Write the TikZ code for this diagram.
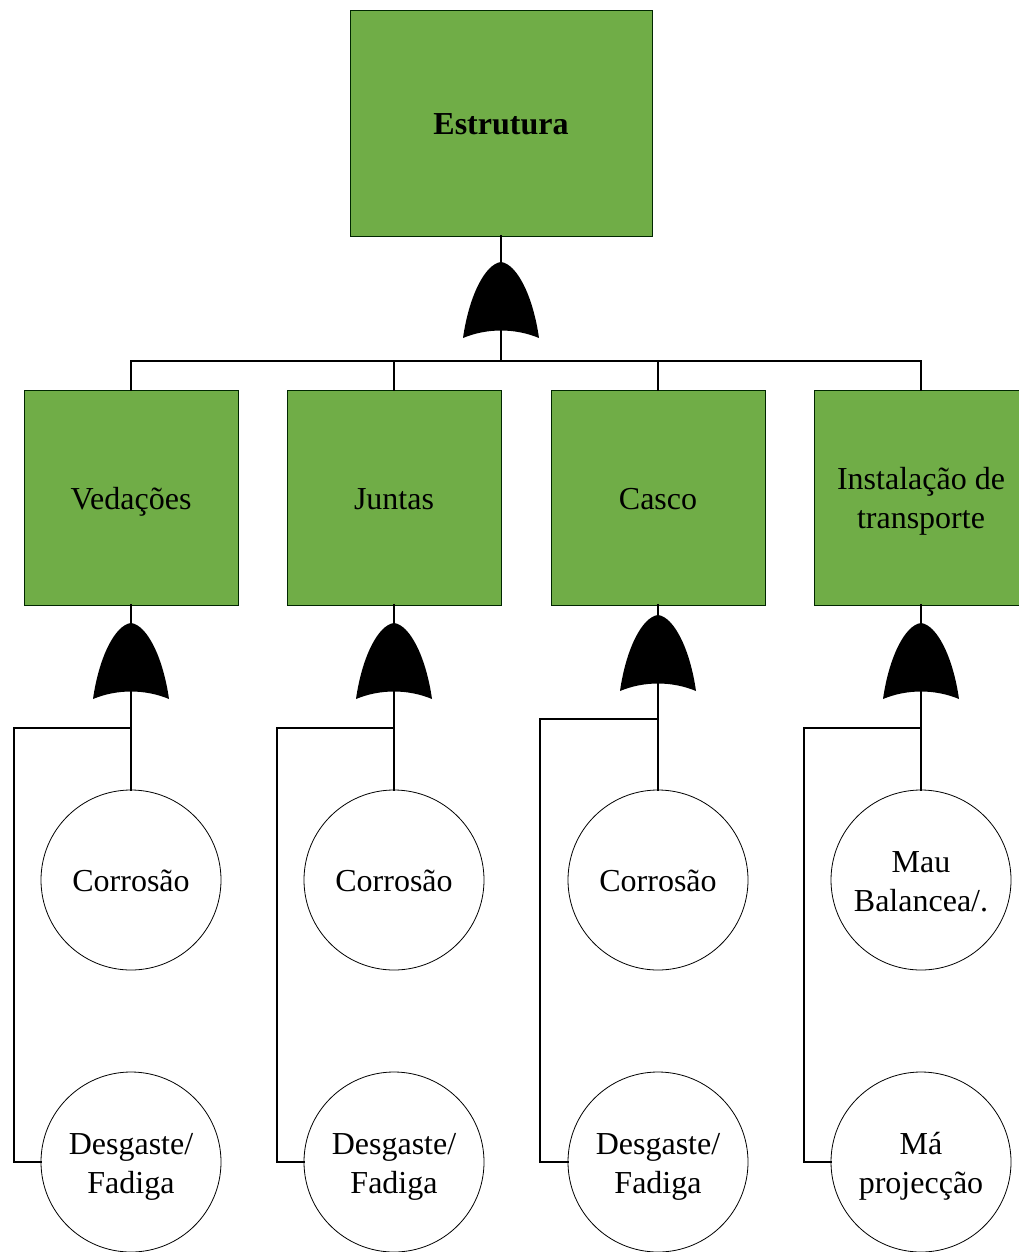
\documentclass[tikz,border=0pt]{standalone}
\usepackage{fontspec}
\setmainfont{Liberation Serif}
\begin{document}
\begin{tikzpicture}[x=1pt,y=-1pt,
  txt/.style={align=center, font=\fontsize{32}{39}\selectfont, text height=23pt, text depth=0pt},
  twoline/.style={text height=62pt},
  event/.style={txt, draw=black!75!green!60!black, line width=0.8pt, fill=evgreen, inner sep=0pt,
    minimum width=214pt, minimum height=215pt},
  basic/.style={txt, circle, draw=black, line width=0.8pt, fill=white, minimum size=180pt,
    inner sep=0pt},
  wire/.style={line width=2.6pt, line cap=rect},
  ]
\definecolor{evgreen}{HTML}{70AD47}
\useasboundingbox (0,0) rectangle (1018,1252);
\fill[white] (0,0) rectangle (1018,1252);

% OR gate: apex at (#1,#2)
\newcommand{\orgate}[2]{%
  \fill[black] (#1-38,#2+76)
    .. controls (#1-32,#2+34) and (#1-16,#2+2) .. (#1,#2)
    .. controls (#1+16,#2+2) and (#1+32,#2+34) .. (#1+38,#2+76)
    .. controls (#1+14,#2+66) and (#1-14,#2+66) .. cycle;}

% events
\node[event, minimum width=302pt, minimum height=226pt, font=\fontsize{32}{39}\selectfont\bfseries]
  (top) at (501,123) {Estrutura};
\node[event] (v) at (131,497.5) {Vedações};
\node[event] (j) at (394,497.5) {Juntas};
\node[event] (c) at (658,497.5) {Casco};
\node[event, twoline] (t) at (921,497.5) {Instalação de\\transporte};

% basic events
\node[basic] (v1) at (131,880) {Corrosão};
\node[basic, twoline] (v2) at (131,1162) {Desgaste/\\Fadiga};
\node[basic] (j1) at (394,880) {Corrosão};
\node[basic, twoline] (j2) at (394,1162) {Desgaste/\\Fadiga};
\node[basic] (c1) at (658,880) {Corrosão};
\node[basic, twoline] (c2) at (658,1162) {Desgaste/\\Fadiga};
\node[basic, twoline] (t1) at (921,880) {Mau\\Balancea/.};
\node[basic, twoline] (t2) at (921,1162) {Má\\projecção};

% top level connectors
\coordinate (bus) at (501,361);
\draw[wire] (top.south) -- (bus);
\foreach \n in {v,j,c,t} \draw[wire] (\n.north) |- (bus);
\orgate{501}{262}

% branch connectors
\coordinate (vk) at (131,728); \coordinate (vl) at (14,728);
\coordinate (jk) at (394,728); \coordinate (jl) at (277,728);
\coordinate (ck) at (658,719); \coordinate (cl) at (540,719);
\coordinate (tk) at (921,728); \coordinate (tl) at (804,728);
\foreach \n in {v,j,c,t}{
  \draw[wire] (\n.south) -- (\n1.north);
  \draw[wire] (\n k) -- (\n l) |- (\n2.west);
}
\orgate{131}{623}
\orgate{394}{623}
\orgate{658}{615}
\orgate{921}{623}
\end{tikzpicture}
\end{document}
